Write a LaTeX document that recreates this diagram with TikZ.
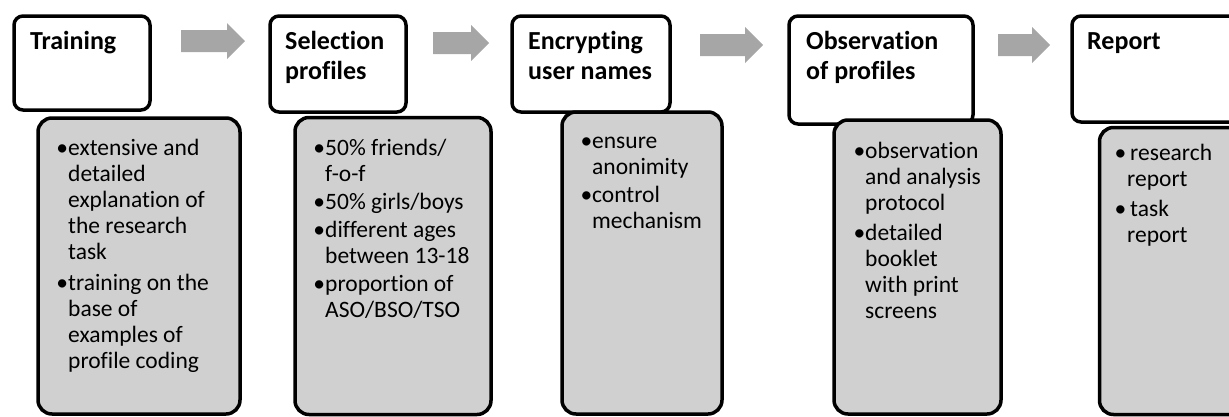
\documentclass[tikz,border=0pt]{standalone}
\usepackage{fontspec}
\setmainfont{Carlito}[Ligatures={NoCommon}]
\definecolor{boxgray}{RGB}{208,208,208}
\definecolor{arrowgray}{RGB}{166,166,166}
% block arrow: start point, shaft length
\newcommand\flowarrow[2]{%
  \fill[arrowgray] (#1) ++(0,-11) -- ++(#2,0) -- ++(0,-7) -- ++(18,18)
    -- ++(-18,18) -- ++(0,-7) -- ++(-#2,0) -- cycle;}
\newcommand\bul{\llap{\textbullet}}
\begin{document}
\begin{tikzpicture}[x=1pt,y=-1pt,
  wbox/.style={draw=black, line width=3.5pt, fill=white, rounded corners=9pt, inner sep=0pt},
  gbox/.style={draw=black, line width=3.5pt, fill=boxgray, rounded corners=14pt, inner sep=0pt},
  title/.style={anchor=base west, inner sep=0pt, font=\fontsize{26}{30}\selectfont\bfseries},
  body/.style={anchor=base west, inner sep=0pt, font=\fontsize{23.5}{26}\selectfont}]
\useasboundingbox (0,0) rectangle (1229,416);
\clip (0,0) rectangle (1229,416);

% step headers
\node[wbox, minimum width=136pt, minimum height=94pt]  (t1) at (82,63) {};
\node[wbox, minimum width=136pt, minimum height=96pt]  (t2) at (338,64) {};
\node[wbox, minimum width=158pt, minimum height=96pt]  (t3) at (591,64) {};
\node[wbox, minimum width=184pt, minimum height=108pt] (t4) at (881,70) {};
\node[wbox, minimum width=186pt, minimum height=106pt] (t5) at (1165,69) {};

% detail panels
\node[gbox, minimum width=202pt, minimum height=296pt] (g1) at (139,266) {};
\node[gbox, minimum width=196pt, minimum height=297pt] (g2) at (393,266) {};
\node[gbox, minimum width=160pt, minimum height=302pt] (g3) at (642,263) {};
\node[gbox, minimum width=167pt, minimum height=294pt] (g4) at (917.5,267) {};
\node[gbox, minimum width=181pt, minimum height=287pt] (g5) at (1190,271) {};

% arrows between steps
\coordinate (a1) at (181,41);
\coordinate (a2) at (433,43);
\coordinate (a3) at (700,45);
\coordinate (a4) at (998,45);
\flowarrow{a1}{46}
\flowarrow{a2}{38}
\flowarrow{a3}{45}
\flowarrow{a4}{34}

% titles
\node[title] (h1) at (30,49)   {\begin{tabular}[t]{@{}l@{}}Training\end{tabular}};
\node[title] (h2) at (285,49)  {\begin{tabular}[t]{@{}l@{}}Selection\\profiles\end{tabular}};
\node[title] (h3) at (528,49)  {\begin{tabular}[t]{@{}l@{}}Encrypting\\user names\end{tabular}};
\node[title] (h4) at (806,49)  {\begin{tabular}[t]{@{}l@{}}Observation\\of profiles\end{tabular}};
\node[title] (h5) at (1087,49) {\begin{tabular}[t]{@{}l@{}}Report\end{tabular}};

% bullet lists
\node[body] (b1) at (68,155) {\begin{tabular}[t]{@{}l@{}}
  \bul extensive and\\ detailed\\ explanation of\\ the research\\ task\\[5pt]
  \bul training on the\\ base of\\ examples of\\ profile coding\end{tabular}};
\node[body] (b2) at (325,155) {\begin{tabular}[t]{@{}l@{}}
  \bul 50\% friends/\\ f-o-f\\[2pt]
  \bul 50\% girls/boys\\[2pt]
  \bul different ages\\ between 13-18\\[2pt]
  \bul proportion of\\ ASO/BSO/TSO\end{tabular}};
\node[body] (b3) at (592,148) {\begin{tabular}[t]{@{}l@{}}
  \bul ensure\\ anonimity\\[2pt]
  \bul control\\ mechanism\end{tabular}};
\node[body] (b4) at (865,158) {\begin{tabular}[t]{@{}l@{}}
  \bul observation\\ and analysis\\ protocol\\[4pt]
  \bul detailed\\ booklet\\ with print\\ screens\end{tabular}};
\node[body] (b5) at (1127,160) {\begin{tabular}[t]{@{}l@{}}
  \llap{\textbullet\hspace{1pt}}\hspace{3pt}research\\ report\\[4pt]
  \llap{\textbullet\hspace{1pt}}\hspace{3pt}task\\ report\end{tabular}};
\end{tikzpicture}
\end{document}
